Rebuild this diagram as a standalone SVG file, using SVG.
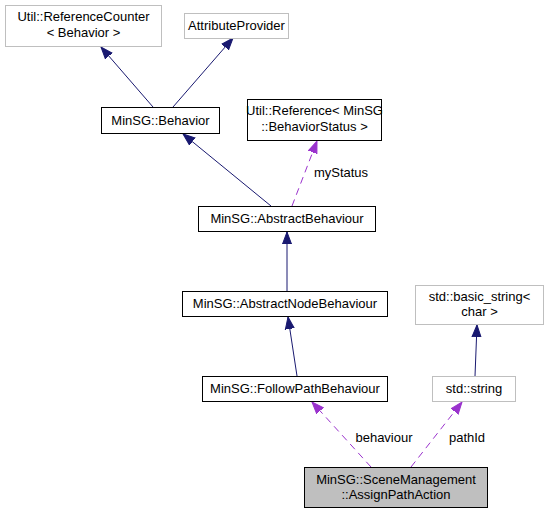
<svg xmlns="http://www.w3.org/2000/svg" width="547" height="515" viewBox="0 0 547 515">
<defs>
<marker id="ab" markerUnits="userSpaceOnUse" markerWidth="14" markerHeight="12" refX="12" refY="5" orient="auto" viewBox="0 0 14 10"><path d="M0,0.5 L12,5 L0,9.5 z" fill="#191970" stroke="#191970" stroke-width="1" stroke-dasharray="none"/></marker>
<marker id="ap" markerUnits="userSpaceOnUse" markerWidth="14" markerHeight="12" refX="12" refY="5" orient="auto" viewBox="0 0 14 10"><path d="M0,0.5 L12,5 L0,9.5 z" fill="#9a32cd" stroke="#9a32cd" stroke-width="1" stroke-dasharray="none"/></marker>
</defs>
<style>
.n{fill:#ffffff;stroke:#000000;stroke-width:1}
.g{fill:#ffffff;stroke:#bfbfbf;stroke-width:1}
.h{fill:#bfbfbf;stroke:#000000;stroke-width:1}
text{font-family:"Liberation Sans",Arial,sans-serif;font-size:13px;fill:#000000;text-anchor:middle}
.e{fill:none;stroke:#191970;stroke-width:1;marker-end:url(#ab)}
.d{fill:none;stroke:#9a32cd;stroke-width:1;stroke-dasharray:7,5;marker-end:url(#ap)}
</style>
<rect width="547" height="515" fill="#ffffff"/>
<g id="edges">
<path class="e" d="M153,107 L101,47"/>
<path class="e" d="M173,107 L233,38"/>
<path class="e" d="M271,206 L183,134"/>
<path class="d" d="M292,206 L317,141"/>
<path class="e" d="M287,291 L287,232"/>
<path class="e" d="M297,376 L288,317"/>
<path class="e" d="M475,376 L477,325"/>
<path class="d" d="M371,467 L312,402"/>
<path class="d" d="M411,467 L462,402"/>
<text x="341" y="177">myStatus</text>
<text x="384" y="442">behaviour</text>
<text x="467" y="442">pathId</text>
</g>
<g id="refcounter"><rect class="g" x="5.5" y="5.5" width="156" height="41"/><text x="83.5" y="21">Util::ReferenceCounter</text><text x="83.5" y="37">&lt; Behavior &gt;</text></g>
<g id="attrprovider"><rect class="g" x="184.5" y="13.5" width="104" height="25"/><text x="236.5" y="30">AttributeProvider</text></g>
<g id="behavior"><rect class="n" x="101.5" y="107.5" width="118" height="26"/><text x="160.5" y="125">MinSG::Behavior</text></g>
<g id="reference"><rect class="n" x="247.5" y="99.5" width="134" height="41"/><text x="314.5" y="115">Util::Reference&lt; MinSG</text><text x="314.5" y="131">::BehaviorStatus &gt;</text></g>
<g id="abstractbehaviour"><rect class="n" x="198.5" y="206.5" width="177" height="25"/><text x="287" y="223">MinSG::AbstractBehaviour</text></g>
<g id="abstractnodebehaviour"><rect class="n" x="182.5" y="291.5" width="205" height="25"/><text x="285" y="308">MinSG::AbstractNodeBehaviour</text></g>
<g id="basicstring"><rect class="g" x="415.5" y="285.5" width="128" height="39"/><text x="479.5" y="301">std::basic_string&lt;</text><text x="479.5" y="316">char &gt;</text></g>
<g id="followpath"><rect class="n" x="202.5" y="376.5" width="185" height="25"/><text x="295" y="393">MinSG::FollowPathBehaviour</text></g>
<g id="stdstring"><rect class="g" x="432.5" y="376.5" width="83" height="25"/><text x="474" y="393">std::string</text></g>
<g id="assignpathaction"><rect class="h" x="304.5" y="467.5" width="183" height="40"/><text x="396" y="484">MinSG::SceneManagement</text><text x="396" y="499">::AssignPathAction</text></g>
</svg>
